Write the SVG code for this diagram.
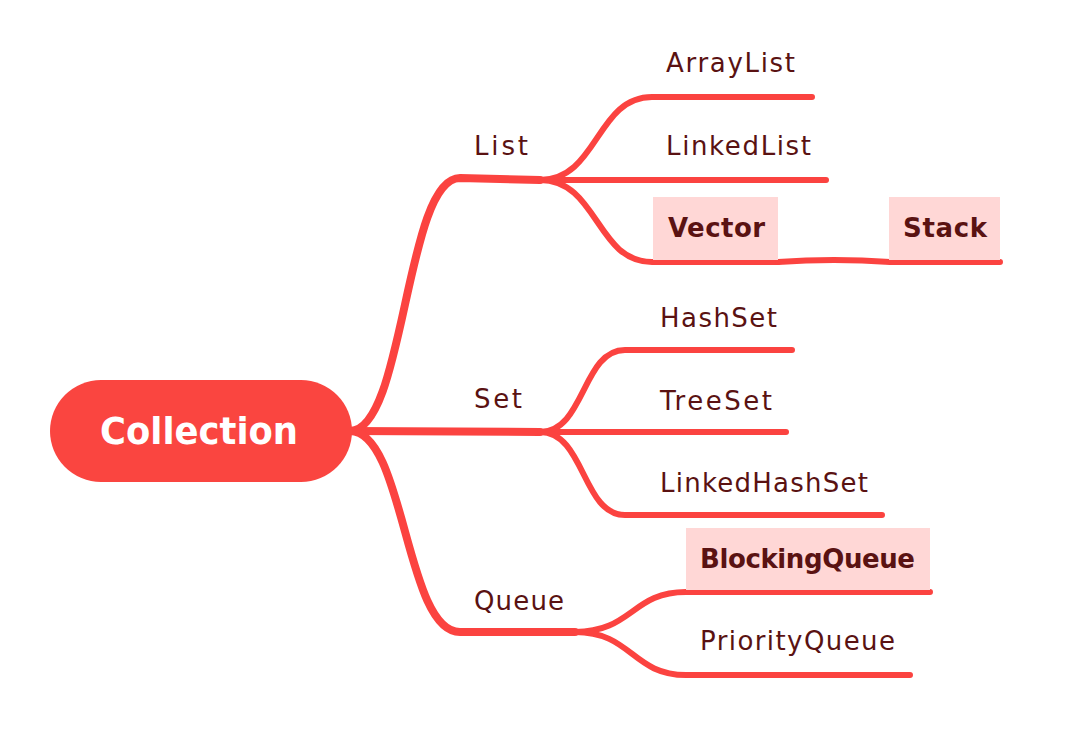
<svg xmlns="http://www.w3.org/2000/svg" width="1065" height="747" viewBox="0 0 1065 747">
<style>
.ln{fill:none;stroke:#fb4340;stroke-width:6;stroke-linecap:round;stroke-linejoin:round}
.tk{stroke-width:8}
.t{font-family:"DejaVu Sans","Liberation Sans",sans-serif;font-size:26px;fill:#5a1212}
.b{font-weight:bold}
.hl{fill:#ffd7d6}
</style>
<rect width="1065" height="747" fill="#ffffff"/>
<g id="connectors">
<path class="ln tk" d="M350,431 C405,431 405,178 460,178 L540,180"/>
<path class="ln tk" d="M350,431 L540,432"/>
<path class="ln tk" d="M350,431 C405,431 405,632 460,632 L575,632"/>
<path class="ln" d="M540,180 C598,180 596,97 652,97 L812,97"/>
<path class="ln" d="M540,180 L826,180"/>
<path class="ln" d="M540,180 C598,180 596,262 652,262 L778,262"/>
<path class="ln" d="M778,262 Q834,258 890,262 L1000,262"/>
<path class="ln" d="M540,432 C585,432 582,350 625,350 L792,350"/>
<path class="ln" d="M540,432 L786,432"/>
<path class="ln" d="M540,432 C585,432 582,515 625,515 L882,515"/>
<path class="ln" d="M575,632 C632,632 632,592 686,592 L930,592"/>
<path class="ln" d="M575,632 C632,632 632,675 686,675 L910,675"/>
</g>
<g id="collection">
<rect x="50" y="380" width="302" height="102" rx="51" fill="#fa4540"/>
<text x="100" y="444" font-family="DejaVu Sans,Liberation Sans,sans-serif" font-size="38" font-weight="bold" fill="#ffffff" textLength="198" lengthAdjust="spacingAndGlyphs">Collection</text>
</g>
<g id="list"><text class="t" x="474" y="155" textLength="54">List</text></g>
<g id="arraylist"><text class="t" x="666" y="72" textLength="129">ArrayList</text></g>
<g id="linkedlist"><text class="t" x="666" y="155" textLength="145">LinkedList</text></g>
<g id="vector"><rect class="hl" x="653" y="197" width="125" height="63"/><text class="t b" x="668" y="237" textLength="97">Vector</text></g>
<g id="stack"><rect class="hl" x="889" y="197" width="111" height="63"/><text class="t b" x="903" y="237" textLength="84">Stack</text></g>
<g id="set"><text class="t" x="474" y="408" textLength="48">Set</text></g>
<g id="hashset"><text class="t" x="660" y="327" textLength="117">HashSet</text></g>
<g id="treeset"><text class="t" x="660" y="410" textLength="112">TreeSet</text></g>
<g id="linkedhashset"><text class="t" x="660" y="492" textLength="208">LinkedHashSet</text></g>
<g id="queue"><text class="t" x="474" y="610" textLength="90">Queue</text></g>
<g id="blockingqueue"><rect class="hl" x="686" y="528" width="244" height="62"/><text class="t b" x="700" y="568" textLength="215">BlockingQueue</text></g>
<g id="priorityqueue"><text class="t" x="700" y="650" textLength="195">PriorityQueue</text></g>
</svg>
